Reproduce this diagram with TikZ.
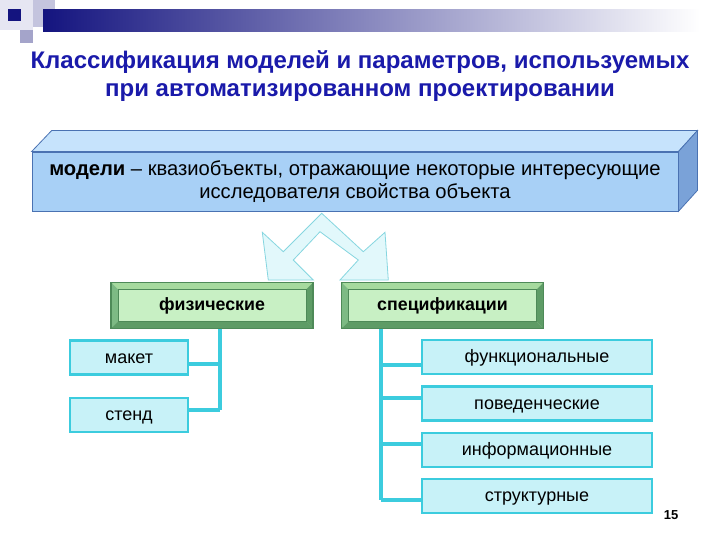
\documentclass[tikz,border=0pt]{standalone}
\usepackage{fontspec}
\setmainfont{Liberation Sans}
\usetikzlibrary{calc}
\definecolor{navy}{HTML}{14147F}
\definecolor{titleblue}{HTML}{1A1AAA}
\definecolor{frontblue}{HTML}{A8D0F6}
\definecolor{topblue}{HTML}{C6E3FC}
\definecolor{sideblue}{HTML}{7AA2D8}
\definecolor{edgeblue}{HTML}{4A72B2}
\definecolor{gface}{HTML}{C8F0C4}
\definecolor{gdark}{HTML}{4E8A58}
\definecolor{glight}{HTML}{A6DA9E}
\definecolor{gmid}{HTML}{7DBA84}
\definecolor{gshade}{HTML}{5E9C66}
\definecolor{cfill}{HTML}{C8F2F8}
\definecolor{cline}{HTML}{3CCCDE}
\definecolor{afill}{HTML}{E2F8FB}
\definecolor{aline}{HTML}{86D6E0}
\definecolor{deco1}{HTML}{E6E6F2}
\definecolor{deco2}{HTML}{C4C4DE}
\definecolor{deco3}{HTML}{A4A4CA}
\tikzset{
  titletext/.style={font=\fontsize{24}{28}\selectfont\bfseries, text=titleblue, align=center},
  mainbox/.style={fill=frontblue, draw=edgeblue, line width=0.8pt, minimum width=646, minimum height=59, inner sep=0pt, align=center, font=\fontsize{20.2}{23}\selectfont},
  greenbox/.style={fill=gface, draw=gdark, line width=1.2pt, minimum width=201, minimum height=45, inner sep=0pt},
  greentext/.style={font=\fontsize{17.8}{20}\selectfont\bfseries},
  leafbox/.style={fill=cfill, draw=cline, line width=2.2pt, inner sep=0pt, minimum height=34, text height=13, text depth=2, font=\fontsize{18}{20}\selectfont},
  conn/.style={draw=cline, line width=3.2pt},
}
\newcommand{\bevelbox}[1]{%
  \fill[glight] (#1.north west) -- (#1.north east) -- ($(#1.north east)+(-7,7)$) -- ($(#1.north west)+(7,7)$) -- cycle;
  \fill[gmid] (#1.north west) -- ($(#1.north west)+(7,7)$) -- ($(#1.south west)+(7,-7)$) -- (#1.south west) -- cycle;
  \fill[gshade] (#1.north east) -- (#1.south east) -- ($(#1.south east)+(-7,-7)$) -- ($(#1.north east)+(-7,7)$) -- cycle;
  \fill[gshade] (#1.south west) -- ($(#1.south west)+(7,-7)$) -- ($(#1.south east)+(-7,-7)$) -- (#1.south east) -- cycle;
  \draw[gdark, line width=0.6pt] ($(#1.north west)+(7,7)$) rectangle ($(#1.south east)+(-7,-7)$);
  \draw[gdark, line width=1.6pt] (#1.north west) rectangle (#1.south east);
}
\begin{document}
\begin{tikzpicture}[x=1pt,y=-1pt]
\useasboundingbox (0,0) rectangle (720,540);
\fill[white] (0,0) rectangle (720,540);
% top-left decoration
\fill[deco1] (0,0) rectangle (33,30);
\fill[deco2] (33,0) rectangle (55,27);
\shade[left color=navy, right color=white] (43,10) rectangle (700,32);
\fill[deco3] (20,30) rectangle (33,43);
\fill[navy] (8,9) rectangle (21,21);
% title
\node[titletext] (title) at (360,76) {Классификация моделей и параметров, используемых\\при автоматизированном проектировании};
% main 3D box
\node[mainbox] (model) at (355,181.5) {\textbf{модели} – квазиобъекты, отражающие некоторые интересующие\\[0pt]исследователя свойства объекта};
\filldraw[fill=topblue, draw=edgeblue, line width=0.8pt] (model.north west) -- ++(20,-21) -- ($(model.north east)+(19,-21)$) -- (model.north east) -- cycle;
\filldraw[fill=sideblue, draw=edgeblue, line width=0.8pt] (model.north east) -- ++(19,-21) -- ($(model.south east)+(19,-21)$) -- (model.south east) -- cycle;
% double arrow
\filldraw[fill=afill, draw=aline, line width=0.8pt]
  (321.7,213.3) -- (283.3,251.7) -- (262.3,232.3) -- (268.3,280) -- (313.3,280) -- (293.3,260)
  -- (320,231.7) -- (358.3,260) -- (340,280) -- (388.3,280) -- (385,232.3) -- (363.3,251.7) -- cycle;
% green boxes
\node[greenbox] (fiz) at (212,305.5) {};
\bevelbox{fiz}
\node[greentext] (fizt) at (fiz) {физические};
\node[greenbox] (spec) at (442.5,305.5) {};
\bevelbox{spec}
\node[greentext] (spect) at (spec) {спецификации};
% leaf boxes
\node[leafbox, minimum width=118] (maket) at (129,357.5) {макет};
\node[leafbox, minimum width=118] (stend) at (129,415) {стенд};
\node[leafbox, minimum width=230] (funk) at (537,357) {функциональные};
\node[leafbox, minimum width=230] (pov) at (537,403.5) {поведенческие};
\node[leafbox, minimum width=230] (inf) at (537,450) {информационные};
\node[leafbox, minimum width=230] (str) at (537,496) {структурные};
% connectors left
\coordinate (fj) at (220,410);
\draw[conn] (fiz.south -| fj) -- (fj);
\draw[conn] ($(maket.east)+(0,6.5)$) -- ($(maket.east -| fj)+(0,6.5)$);
\draw[conn] ($(stend.east)+(0,-5)$) -- ($(stend.east -| fj)+(0,-5)$);
% connectors right
\coordinate (sj) at (381,500);
\draw[conn] (spec.south -| sj) -- (sj);
\draw[conn] ($(funk.west)+(0,8)$) -- ($(funk.west -| sj)+(0,8)$);
\draw[conn] ($(pov.west)+(0,-5.5)$) -- ($(pov.west -| sj)+(0,-5.5)$);
\draw[conn] ($(inf.west)+(0,-6)$) -- ($(inf.west -| sj)+(0,-6)$);
\draw[conn] ($(str.west)+(0,4)$) -- ($(str.west -| sj)+(0,4)$);
% page number
\node[font=\fontsize{13}{14}\selectfont\bfseries] (pg) at (671,515) {15};
\end{tikzpicture}
\end{document}
